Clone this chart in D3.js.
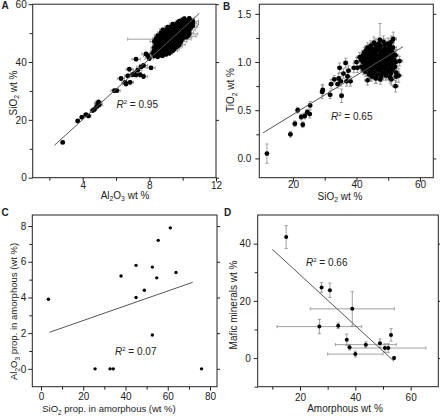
<!DOCTYPE html>
<html><head><meta charset="utf-8">
<script src="https://cdn.jsdelivr.net/npm/d3@7/dist/d3.min.js"></script>
<style>
body{margin:0;background:#fff;}
svg text{font-family:"Liberation Sans",Arial,sans-serif;fill:#222;}
</style></head><body>
<svg id="c" width="440" height="418"></svg>
<script>
// ---------- Panel A: Al2O3 (x) vs SiO2 (y) : [x, y, xErr, yErr]
const aLow = [
 [2.8,12.2,0.1,0.4],[3.7,19.6,0.1,0.4],[3.95,20.9,0.1,0.4],[4.2,21.8,0.15,0.4],[4.35,21.3,0.15,0.4],
 [4.6,23.2,0.15,0.5],[4.7,23.6,0.15,0.5],[4.85,24.6,0.15,0.5],[4.9,25.5,0.2,0.5],[4.95,26.2,0.2,0.5],
 [5.0,25.2,0.2,0.5],[5.9,30.1,0.2,0.5],[6.05,30.1,0.2,0.5],[6.3,34.3,0.2,0.6],[6.55,33.0,0.2,0.6],
 [6.6,32.4,0.2,0.6],[6.7,35.2,0.2,0.6],[6.85,33.0,0.2,0.6],[6.8,37.5,0.2,0.6],[7.0,35.6,0.25,0.6],
 [7.1,36.0,0.25,0.6],[7.2,35.5,0.25,0.6],[7.3,37.2,0.25,0.6],[7.45,35.6,0.25,0.6],[7.5,38.3,0.25,0.6],
 [7.2,41.0,0.25,0.6],[7.65,38.8,0.25,0.6],[7.65,35.0,0.25,0.6],[8.1,38.0,0.25,0.6],[7.8,42.8,0.25,0.6],
 [7.9,42.2,0.25,0.6],[8.0,41.2,0.25,0.6]
];
const aCluster = [
 [8.3,42.1,0.2,0.6],[8.5,41.8,0.2,0.6],[8.8,42.2,0.25,0.7],
 [8.4,42.6,0.2,0.6],[8.7,42.4,0.3,0.6],[9.0,42.7,0.2,0.7],
 [8.2,43.0,0.2,0.6],[8.4,43.2,0.25,0.6],[8.6,42.9,0.2,0.7],[8.9,43.1,0.3,0.6],[9.2,43.0,0.2,0.6],
 [8.3,43.6,0.2,0.7],[8.6,43.5,0.2,0.6],[8.9,43.7,0.25,0.6],[9.2,43.4,0.2,0.7],
 [8.3,44.1,0.2,0.6],[8.5,43.9,0.3,0.7],[8.7,44.2,0.2,0.6],[8.9,44.0,0.25,0.6],[9.1,44.1,0.2,0.7],[9.4,43.9,0.3,0.6],
 [8.4,44.6,0.25,0.6],[8.8,44.4,0.2,0.7],[9.2,44.6,0.2,0.6],[9.5,44.5,0.3,0.7],
 [8.3,45.1,0.2,0.6],[8.5,44.9,0.2,0.7],[8.7,45.2,0.3,0.6],[8.9,45.0,0.2,0.6],[9.1,45.1,0.25,0.7],[9.3,44.9,0.2,0.6],[9.6,45.2,0.3,0.6],
 [8.5,45.6,0.2,0.6],[8.9,45.4,0.25,0.7],[9.3,45.6,0.2,0.6],[9.7,45.5,0.3,0.7],
 [8.4,46.1,0.2,0.7],[8.6,45.9,0.3,0.6],[8.8,46.2,0.2,0.6],[9.0,46.0,0.25,0.7],[9.2,46.1,0.2,0.6],[9.4,45.9,0.3,0.6],[9.6,46.2,0.2,0.7],[9.8,46.0,0.35,0.6],
 [8.5,46.6,0.2,0.6],[8.9,46.4,0.25,0.7],[9.3,46.6,0.2,0.6],[9.7,46.5,0.3,0.7],
 [8.3,47.1,0.25,0.6],[8.5,46.9,0.2,0.7],[8.7,47.2,0.2,0.6],[8.9,47.0,0.3,0.6],[9.1,47.1,0.2,0.7],[9.3,46.9,0.25,0.6],[9.5,47.2,0.2,0.6],[9.7,47.0,0.3,0.7],[9.9,47.1,0.35,0.6],
 [8.6,47.6,0.2,0.6],[9.0,47.4,0.25,0.7],[9.4,47.6,0.2,0.6],[9.8,47.5,0.3,0.7],
 [8.4,48.1,0.2,0.6],[8.6,47.9,1.9,0.7],[8.8,48.2,0.2,0.6],[9.0,48.0,0.25,0.6],[9.2,48.1,0.2,0.7],[9.4,47.9,0.3,0.6],[9.6,48.2,0.2,0.6],[9.8,48.0,0.25,0.7],[10.0,48.1,0.3,0.6],
 [8.7,48.6,0.2,0.6],[9.1,48.4,0.25,0.7],[9.5,48.6,0.2,0.6],[9.9,48.5,0.3,0.7],[10.2,48.6,0.35,0.6],
 [8.5,49.1,0.2,0.6],[8.7,48.9,0.2,0.7],[8.9,49.2,0.3,0.6],[9.1,49.0,0.2,0.6],[9.3,49.1,0.25,0.7],[9.5,48.9,0.2,0.6],[9.7,49.2,0.3,0.6],[9.9,49.0,0.2,0.7],[10.1,49.1,0.25,0.6],[10.3,48.9,0.5,0.6],
 [8.8,49.6,0.2,0.6],[9.2,49.4,0.25,0.7],[9.6,49.6,0.2,0.6],[10.0,49.5,0.3,0.7],[10.4,49.7,0.5,0.6],
 [8.7,50.1,0.2,0.6],[8.9,49.9,0.25,0.7],[9.1,50.2,0.2,0.6],[9.3,50.0,0.3,0.6],[9.5,50.1,0.2,0.7],[9.7,49.9,0.25,0.6],[9.9,50.2,0.2,0.6],[10.1,50.0,0.3,0.7],[10.3,50.1,0.35,0.6],
 [9.0,50.6,0.2,0.6],[9.4,50.4,0.25,0.7],[9.8,50.6,0.2,0.6],[10.2,50.5,0.3,0.7],
 [8.8,51.1,0.2,0.6],[9.0,50.9,0.25,0.7],[9.2,51.2,0.2,0.6],[9.4,51.0,0.3,0.6],[9.6,51.1,0.2,0.7],[9.8,50.9,0.25,0.6],[10.0,51.2,0.2,0.6],[10.2,51.0,0.3,0.7],[10.4,51.1,0.35,0.6],
 [9.1,51.6,0.2,0.6],[9.5,51.4,0.25,0.7],[9.9,51.6,0.2,0.6],[10.3,51.5,0.3,0.7],
 [9.1,52.1,0.2,0.6],[9.3,51.9,0.25,0.7],[9.5,52.2,0.2,0.6],[9.7,52.0,0.3,0.6],[9.9,52.1,0.2,0.7],[10.1,51.9,0.25,0.6],[10.3,52.2,0.3,0.6],[10.5,52.0,0.35,0.7],
 [9.4,52.6,0.2,0.6],[9.8,52.4,0.25,0.7],[10.2,52.6,0.2,0.6],[10.6,52.5,0.3,0.7],
 [9.4,53.1,0.2,0.6],[9.6,52.9,0.25,0.7],[9.8,53.2,0.2,0.6],[10.0,53.0,0.3,0.6],[10.2,53.1,0.2,0.7],[10.4,52.9,0.25,0.6],[10.6,53.2,0.35,0.6],
 [9.7,53.6,0.2,0.6],[10.1,53.4,0.25,0.7],[10.5,53.6,0.3,0.6],
 [9.8,54.1,0.2,0.6],[10.0,53.9,0.25,0.7],[10.2,54.2,0.2,0.6],[10.4,54.0,0.3,0.6],[10.6,54.1,0.35,0.7],
 [10.0,54.6,0.2,0.6],[10.4,54.4,0.25,0.7],
 [10.1,55.0,0.2,0.6],[10.4,55.1,0.3,0.6]
];
const aFit = [[2.3,11.2],[11.0,56.8]];
const aXTicks = [4,8,12], aYTicks = [0,20,40,60];

// ---------- Panel B: SiO2 (x) vs TiO2 (y)
const bLow = [
 [11.8,0.05,0.4,0.1],[19.2,0.25,0.5,0.03],[20.6,0.36,0.5,0.03],[21.5,0.50,0.5,0.03],[22.6,0.43,0.5,0.03],
 [23.1,0.35,0.5,0.03],[23.7,0.44,0.5,0.03],[24.5,0.48,0.5,0.03],[25.3,0.46,0.5,0.04],[25.4,0.55,0.5,0.04],
 [29.2,0.69,0.6,0.07],[29.4,0.71,0.6,0.06],[31.7,0.66,0.6,0.04],[32.0,0.77,0.6,0.05],[33.0,0.82,0.6,0.04],
 [34.1,0.77,0.6,0.04],[34.4,0.83,0.6,0.05],[34.7,0.94,0.6,0.05],[35.3,0.65,0.6,0.07],[35.1,0.80,0.6,0.05],
 [35.9,0.88,0.7,0.05],[36.6,0.99,0.7,0.05],[36.9,0.80,0.7,0.05],[37.2,0.85,0.7,0.05],[37.5,0.91,0.7,0.05],
 [38.1,0.80,0.7,0.05],[39.2,0.94,0.7,0.05],[40.0,1.00,0.8,0.05]
];
const bCluster = [
 [45.5,1.20,1.0,0.06],[47.0,1.19,1.0,0.06],[48.5,1.21,1.1,0.06],[50.0,1.19,1.0,0.06],[51.0,1.21,1.0,0.06],
 [44.5,1.17,0.9,0.05],[46.0,1.18,1.0,0.06],[47.5,1.17,1.0,0.05],[49.0,1.18,1.1,0.06],[50.5,1.17,1.0,0.05],
 [43.5,1.15,0.9,0.05],[44.8,1.14,1.0,0.06],[46.2,1.15,1.0,0.05],[47.6,1.16,1.1,0.06],[49.0,1.14,1.0,0.05],[50.3,1.15,1.0,0.06],[51.5,1.15,1.1,0.05],
 [43.0,1.12,0.9,0.05],[44.3,1.13,1.0,0.05],[45.6,1.12,1.0,0.06],[47.0,1.13,1.0,0.05],[48.3,1.12,1.1,0.06],[49.6,1.13,1.0,0.05],[51.0,1.12,1.0,0.06],
 [42.5,1.10,0.9,0.05],[43.8,1.09,1.0,0.06],[45.0,1.10,1.0,0.05],[46.3,1.11,1.0,0.05],[47.6,1.09,1.1,0.06],[48.9,1.10,1.0,0.05],[50.2,1.11,1.0,0.06],[51.5,1.09,1.1,0.05],
 [42.0,1.07,0.9,0.05],[43.3,1.08,1.0,0.05],[44.6,1.07,1.0,0.06],[45.9,1.08,1.0,0.05],[47.2,1.07,1.1,0.05],[48.5,1.08,1.0,0.06],[49.8,1.07,1.0,0.05],[51.1,1.08,1.1,0.05],[52.3,1.07,1.0,0.06],
 [42.3,1.05,0.9,0.05],[43.6,1.04,1.0,0.06],[44.9,1.05,1.0,0.05],[46.2,1.06,1.0,0.05],[47.5,1.04,1.1,0.06],[48.8,1.05,1.0,0.05],[50.1,1.06,1.0,0.05],[51.4,1.04,1.1,0.06],
 [41.5,1.02,0.9,0.05],[42.8,1.03,1.0,0.05],[44.1,1.02,1.0,0.06],[45.4,1.03,1.0,0.05],[46.7,1.02,1.1,0.05],[48.0,1.03,1.0,0.06],[49.3,1.02,1.0,0.05],[50.6,1.03,1.1,0.05],[51.9,1.02,1.0,0.06],
 [42.0,1.00,0.9,0.05],[43.3,0.99,1.0,0.05],[44.6,1.00,1.0,0.06],[45.9,1.01,1.0,0.05],[47.2,0.99,1.1,0.05],[48.5,1.00,1.0,0.06],[49.8,1.01,1.0,0.05],[51.1,0.99,1.1,0.05],[52.4,1.00,1.0,0.06],[53.6,1.01,1.0,0.05],
 [42.6,0.97,0.9,0.05],[43.9,0.98,1.0,0.05],[45.2,0.97,1.0,0.06],[46.5,0.98,1.0,0.05],[47.8,0.97,1.1,0.05],[49.1,0.98,1.0,0.06],[50.4,0.97,1.0,0.05],[51.7,0.98,1.1,0.05],
 [41.5,0.95,0.9,0.05],[43.0,0.94,1.0,0.06],[44.3,0.95,1.0,0.05],[45.6,0.96,1.0,0.05],[46.9,0.94,1.1,0.06],[48.2,0.95,1.0,0.05],[49.5,0.96,1.0,0.05],[50.8,0.94,1.1,0.06],[52.1,0.95,1.0,0.05],
 [42.2,0.92,0.9,0.05],[43.6,0.93,1.0,0.05],[45.0,0.92,1.0,0.06],[46.3,0.93,1.0,0.05],[47.6,0.92,1.1,0.05],[48.9,0.93,1.0,0.06],[50.2,0.92,1.0,0.05],[51.5,0.93,1.1,0.05],
 [42.8,0.90,0.9,0.05],[44.2,0.89,1.0,0.06],[45.6,0.90,1.0,0.05],[47.0,0.91,1.0,0.05],[48.4,0.89,1.1,0.06],[49.8,0.90,1.0,0.05],[51.2,0.91,1.0,0.05],[52.5,0.89,1.1,0.06],
 [44.0,0.87,0.9,0.05],[45.3,0.88,1.0,0.05],[46.6,0.87,1.0,0.06],[48.0,0.88,1.0,0.05],[49.4,0.87,1.1,0.05],[50.8,0.88,1.0,0.06],
 [44.8,0.85,1.0,0.05],[46.2,0.84,1.0,0.06],[47.8,0.85,1.0,0.05],[49.3,0.86,1.1,0.05],[50.6,0.84,1.0,0.06],[52.5,0.85,1.0,0.06],
 [46.0,0.83,1.0,0.05],[47.5,0.82,1.0,0.05],[51.0,0.82,1.0,0.06],
 [43.5,0.81,0.9,0.05],[47.4,1.23,1.0,0.17],[51.6,1.24,1.0,0.07],[52.3,0.75,0.9,0.06],[53.3,0.86,1.0,0.07],[40.3,0.94,0.8,0.05],[41.0,1.05,0.9,0.05]
];
const bFit = [[10.6,0.265],[54.7,1.16]];
const bXTicks = [20,40,60], bYTicks = [0,0.5,1.0,1.5];

// ---------- Panel C: SiO2 prop. (x) vs Al2O3 prop. (y)
const cSiO2 = [3.5,25.6,32.7,34.2,37.9,45.0,45.0,48.9,52.7,52.7,54.8,55.5,61.2,63.9,76.0];
const cAl2O3 = [3.9,0,0,0,5.2,5.8,4.0,4.4,5.7,1.9,5.1,7.2,7.9,5.4,0];
const cFit = [[4.1,2.05],[71.8,4.85]];
const cXTicks = [0,20,40,60,80], cYTicks = [0,2,4,6,8];

// ---------- Panel D: Amorphous (x) vs Mafic minerals (y): [x, y, xErr, yErr]
const dData = [
 [15,42.3,0,4],[27.8,24.7,0,1.7],[30.8,23.7,0,2.5],[38.9,17.2,15.2,6],[27,11,15.3,2.5],
 [33.8,11.3,0,1],[36.9,6.4,0,2],[37.9,3.8,0,1],[43.8,4.7,11,1],[40,1.4,10,1],
 [48.9,5.2,0,1.5],[50.7,3.5,0,1.5],[51.9,3.5,13.6,1.5],[52.9,8.1,0,2.2],[54,0,0,0.5]
];
const dFit = [[10,38],[54,-1.1]];
const dXTicks = [20,40,60], dYTicks = [0,20,40];

// ---------------------------------------------------------------
const svg = d3.select("#c");

function rich(t, s){
  const parts = s.split(/(_\d|\^\d|\*[^*]+\*)/).filter(p=>p!=="");
  let shift = 0;
  parts.forEach(p=>{
    const ts = t.append("tspan");
    if(p[0]==="_"){ ts.text(p.slice(1)).attr("font-size","0.68em").attr("dy",2.5-shift); shift=2.5; }
    else if(p[0]==="^"){ ts.text(p.slice(1)).attr("font-size","0.6em").attr("dy",-4-shift); shift=-4; }
    else if(p[0]==="*"){ ts.text(p.slice(1,-1)).attr("font-style","italic").attr("dy",-shift); shift=0; }
    else { ts.text(p).attr("dy",-shift); shift=0; }
  });
}

function panel(c){
  const g = svg.append("g");
  const x = d3.scaleLinear().domain(c.xd).range([c.l,c.r]);
  const y = d3.scaleLinear().domain(c.yd).range([c.b,c.t]);
  const fs = c.fs || 10;
  // minor ticks
  g.append("g").attr("transform",`translate(0,${c.b})`)
    .call(d3.axisBottom(x).tickValues(c.xMinor).tickSize(3).tickFormat(""));
  g.append("g").attr("transform",`translate(${c.l},0)`)
    .call(d3.axisLeft(y).tickValues(c.yMinor).tickSize(3).tickFormat(""));
  // major ticks
  g.append("g").attr("transform",`translate(0,${c.b})`)
    .call(d3.axisBottom(x).tickValues(c.xTicks).tickSize(4).tickPadding(c.xPad).tickFormat(c.xFmt||d3.format("d")));
  g.append("g").attr("transform",`translate(${c.l},0)`)
    .call(d3.axisLeft(y).tickValues(c.yTicks).tickSize(4).tickPadding(c.yPad).tickFormat(c.yFmt||d3.format("d")));
  g.append("g").attr("transform",`translate(${c.r},0)`)
    .call(d3.axisRight(y).tickValues(c.yTicks).tickSize(3).tickFormat(""));
  g.selectAll(".domain").remove();
  g.selectAll(".tick line").attr("stroke","#222");
  g.selectAll(".tick text").attr("font-size",fs).attr("fill","#222").style("font-family","'Liberation Sans',Arial,sans-serif");
  // frame
  g.append("rect").attr("x",c.l).attr("y",c.t).attr("width",c.r-c.l).attr("height",c.b-c.t)
    .attr("fill","none").attr("stroke","#222").attr("stroke-width",1);

  const pts = c.pts;
  const eg = g.append("g").attr("stroke","#8a8a8a").attr("stroke-width",0.8).attr("fill","none");
  const cap = 1.6;
  pts.filter(d=>d[2]>0).forEach(d=>{
    const x0=x(d[0]-d[2]), x1=x(d[0]+d[2]), yy=y(d[1]);
    eg.append("line").attr("x1",x0).attr("x2",x1).attr("y1",yy).attr("y2",yy);
    eg.append("line").attr("x1",x0).attr("x2",x0).attr("y1",yy-cap).attr("y2",yy+cap);
    eg.append("line").attr("x1",x1).attr("x2",x1).attr("y1",yy-cap).attr("y2",yy+cap);
  });
  pts.filter(d=>d[3]>0).forEach(d=>{
    const y0=y(d[1]-d[3]), y1=y(d[1]+d[3]), xx=x(d[0]);
    eg.append("line").attr("x1",xx).attr("x2",xx).attr("y1",y0).attr("y2",y1);
    eg.append("line").attr("x1",xx-cap).attr("x2",xx+cap).attr("y1",y0).attr("y2",y0);
    eg.append("line").attr("x1",xx-cap).attr("x2",xx+cap).attr("y1",y1).attr("y2",y1);
  });
  g.append("g").selectAll("circle").data(pts).join("circle")
    .attr("cx",d=>x(d[0])).attr("cy",d=>y(d[1])).attr("r",c.rad).attr("fill","#000");
  // fit line
  g.append("line").attr("x1",x(c.fit[0][0])).attr("y1",y(c.fit[0][1]))
    .attr("x2",x(c.fit[1][0])).attr("y2",y(c.fit[1][1]))
    .attr("stroke","#555").attr("stroke-width",1);
  // R2
  const rt = g.append("text").attr("x",c.r2[0]).attr("y",c.r2[1]).attr("font-size",10).attr("fill","#333");
  rich(rt, "*R*^2 = "+c.r2v);
  // titles
  const xt = g.append("text").attr("x",c.xt[0]).attr("y",c.xt[1]).attr("text-anchor","middle").attr("font-size",c.tfs||10);
  rich(xt, c.xTitle);
  const yt = g.append("text").attr("transform",`translate(${c.yt[0]},${c.yt[1]}) rotate(-90)`)
    .attr("text-anchor","middle").attr("font-size",c.tfs||10);
  rich(yt, c.yTitle);
  g.append("text").attr("x",c.lab[0]).attr("y",c.lab[1]).attr("font-size",10).attr("font-weight","bold").attr("fill","#000").text(c.letter);
}

panel({letter:"A", lab:[1.5,9], l:32.7, r:216, t:4.2, b:177.7, xd:[1,12], yd:[0,60],
  xTicks:aXTicks, yTicks:aYTicks, xMinor:[2,6,10], yMinor:[10,30,50], xPad:0, yPad:2,
  pts:aLow.concat(aCluster), rad:2.4, fit:aFit, r2:[116.5,108], r2v:"0.95",
  xTitle:"Al_2O_3 wt %", yTitle:"SiO_2 wt %", xt:[125,198.5], yt:[16.5,93]});

panel({letter:"B", lab:[223,9.5], l:259.3, r:433.3, t:4.2, b:177.7, xd:[9.4,64.2], yd:[-0.2,1.6],
  xTicks:bXTicks, yTicks:bYTicks, xMinor:[30,50], yMinor:[0.25,0.75,1.25], xPad:-0.5, yPad:4,
  yFmt:d3.format(".1f"),
  pts:bLow.concat(bCluster), rad:2.4, fit:bFit, r2:[331,120], r2v:"0.65",
  xTitle:"SiO_2 wt %", yTitle:"TiO_2 wt %", xt:[340,199.5], yt:[234,90]});

panel({letter:"C", lab:[1.5,215.5], l:32.3, r:217, t:215, b:386.7, xd:[-4.1,83.3], yd:[-1,8.62],
  xTicks:cXTicks, yTicks:cYTicks, xMinor:[10,30,50,70], yMinor:[1,3,5,7], xPad:2.5, yPad:2,
  pts:cSiO2.map((v,i)=>[v,cAl2O3[i],0,0]), rad:1.7, fit:cFit, r2:[115,354.5], r2v:"0.07", tfs:9.5,
  xTitle:"SiO_2 prop. in amorphous (wt %)", yTitle:"Al_2O_3 prop. in amorphous (wt %)", xt:[109,412], yt:[17,311.5]});

panel({letter:"D", lab:[224,215.5], l:257.7, r:438.3, t:215, b:386.7, xd:[4.7,70], yd:[-10,50],
  xTicks:dXTicks, yTicks:dYTicks, xMinor:[10,30,50], yMinor:[-10,10,30], xPad:3, yPad:3,
  pts:dData, rad:2, fit:dFit, r2:[306,266], r2v:"0.66",
  xTitle:"Amorphous wt %", yTitle:"Mafic minerals wt %", xt:[345,412], yt:[237,305]});
</script>
</body></html>
